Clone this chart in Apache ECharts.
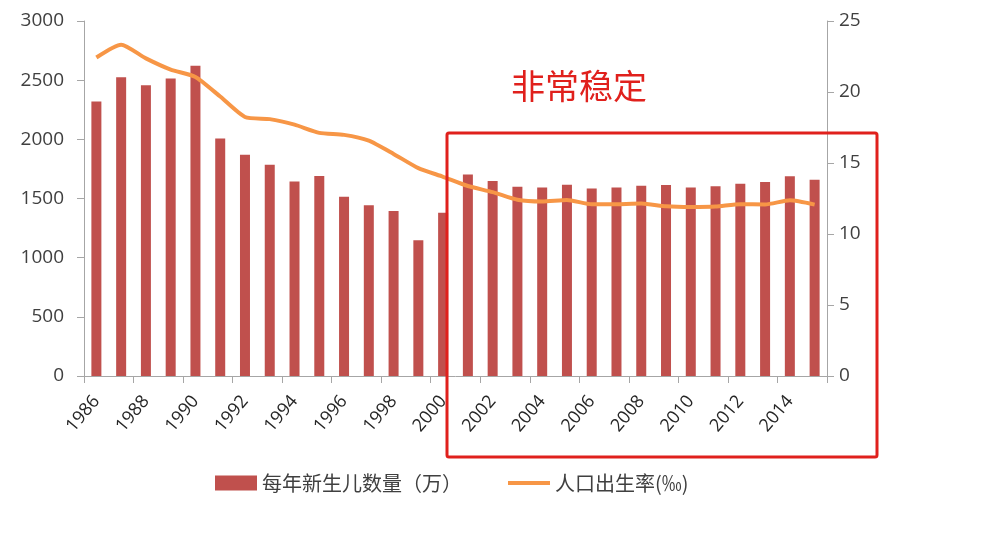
<!DOCTYPE html>
<html><head><meta charset="utf-8">
<script src="https://cdn.jsdelivr.net/npm/echarts@6/dist/echarts.min.js"></script>
<style>html,body{margin:0;padding:0;background:#fff}#c{width:1000px;height:537px}</style>
</head><body><div id="c"></div>
<script>
const years = ['1986','1987','1988','1989','1990','1991','1992','1993','1994','1995','1996','1997','1998','1999','2000','2001','2002','2003','2004','2005','2006','2007','2008','2009','2010','2011','2012','2013','2014','2015'];
const births = [2320,2525,2457,2515,2621,2008,1869,1785,1644,1691,1515,1443,1394,1147,1379,1702,1647,1599,1593,1617,1584,1594,1608,1615,1592,1604,1625,1640,1687,1658];
const birthRate = [22.43,23.33,22.37,21.58,21.06,19.68,18.24,18.09,17.70,17.12,16.98,16.57,15.64,14.64,14.03,13.38,12.95,12.41,12.29,12.40,12.09,12.10,12.14,11.95,11.90,11.93,12.10,12.08,12.37,12.07];
const leftTicks = [0,500,1000,1500,2000,2500,3000];
const rightTicks = [0,5,10,15,20,25];
const seriesNames = ['每年新生儿数量（万）','人口出生率(‰)'];
const note = '非常稳定';

const FONT = '"Open Sans","Noto Sans CJK SC",sans-serif';
const chart = echarts.init(document.getElementById('c'), null, {renderer:'canvas'});
chart.setOption({
  animation:false,
  textStyle:{fontFamily:FONT},
  grid:{left:84,right:173,top:21,bottom:161,containLabel:false},
  legend:{
    data:[{name:seriesNames[0],icon:'rect'},
          {name:seriesNames[1],icon:'path://M0,0 L0,14 M0,5 L43,5 L43,9 L0,9 Z'}],
    left:210, top:468, itemWidth:42, itemHeight:15, itemGap:46,
    textStyle:{fontSize:20,color:'#404040',fontFamily:'"Noto Sans CJK SC",sans-serif'}
  },
  xAxis:{
    type:'category', data:years, boundaryGap:true,
    axisLine:{lineStyle:{color:'#A6A6A6',width:1}},
    axisTick:{show:true,interval:1,length:7,lineStyle:{color:'#A6A6A6'}},
    axisLabel:{interval:1,rotate:50,fontSize:18,color:'#262626',margin:22,fontFamily:FONT}
  },
  yAxis:[
    {type:'value',min:leftTicks[0],max:leftTicks[leftTicks.length-1],interval:500,
     axisLine:{show:true,lineStyle:{color:'#A6A6A6'}},
     axisTick:{show:true,length:7,lineStyle:{color:'#A6A6A6'}},
     splitLine:{show:false},
     axisLabel:{fontSize:19,color:'#404040',margin:20,fontFamily:FONT,formatter:v=>String(v)}},
    {type:'value',min:rightTicks[0],max:rightTicks[rightTicks.length-1],interval:5,position:'right',
     axisLine:{show:true,lineStyle:{color:'#A6A6A6'}},
     axisTick:{show:true,length:7,lineStyle:{color:'#A6A6A6'}},
     splitLine:{show:false},
     axisLabel:{fontSize:19,color:'#404040',margin:12,fontFamily:FONT}}
  ],
  series:[
    {name:seriesNames[0],type:'bar',data:births,barWidth:10,itemStyle:{color:'#C0504D'},yAxisIndex:0},
    {name:seriesNames[1],type:'line',data:birthRate,yAxisIndex:1,symbol:'none',smooth:0.2,
     lineStyle:{color:'#F79646',width:4},itemStyle:{color:'#F79646'}}
  ],
  graphic:[
    {type:'rect',shape:{x:447,y:133,width:430,height:324,r:2},
     style:{fill:'none',stroke:'#E0201C',lineWidth:3},z:100},
    {type:'text',x:579,y:86,style:{text:note,fontSize:34,fill:'#E0201C',align:'center',verticalAlign:'middle',
     fontFamily:'"Noto Sans CJK SC",sans-serif'},z:100}
  ]
});
</script></body></html>
